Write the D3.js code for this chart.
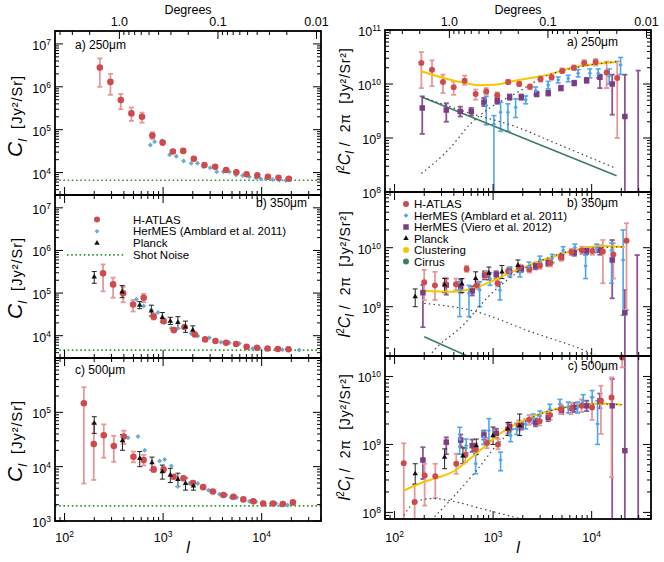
<!DOCTYPE html>
<html><head><meta charset="utf-8">
<script src="https://cdn.jsdelivr.net/npm/d3@7"></script>
<style>body{margin:0;background:#fff}svg{font-family:"Liberation Sans",Arial,sans-serif}</style>
</head><body><svg id="c" width="664" height="562"></svg>
<script>
// ---------------- DATA (l, value, errLow, errHigh) ----------------
// Left column: C_l [Jy^2/Sr]
const LA_hatlas=[[228,2.8e6,1.0e6,4.6e6],[292,1.3e6,6.5e5,2.0e6],[372,4.9e5,3.0e5,6.8e5],[477,2.4e5,1.6e5,3.3e5],[611,2.0e5,1.46e5,2.5e5],[778,7.3e4,6.1e4,8.7e4],[989,5.0e4,4.5e4,5.5e4],[1256,3.1e4,2.85e4,3.35e4],[1600,3.2e4,3.0e4,3.4e4],[2048,2.1e4,null,null],[2627,1.5e4,null,null],[3373,1.37e4,null,null],[4355,1.15e4,null,null],[5538,1.02e4,null,null],[7035,9.1e3,null,null],[9031,8.6e3,null,null],[11580,8.0e3,null,null],[14830,7.6e3,null,null],[18880,7.2e3,null,null]];
const LA_amblard=[[743,4.4e4],[820,5.2e4],[973,5.5e4],[1164,2.6e4],[1361,2.4e4],[1612,1.87e4],[1928,1.65e4],[2233,1.65e4],[2570,1.37e4],[3000,1.3e4],[3500,1.05e4],[4090,1.05e4],[4700,1.05e4],[5500,8.8e3],[6410,8.6e3],[7500,8.0e3],[8750,7.6e3],[9840,7.1e3],[11060,7.1e3],[12900,6.9e3],[15070,6.6e3],[17600,6.5e3]];
const LA_shot=6.6e3;
const LB_hatlas=[[246,2.9e5,1.1e5,4.7e5],[311,1.6e5,7.8e4,2.3e5],[393,9.9e4,6.1e4,1.4e5],[496,5.4e4,3.7e4,6.9e4],[635,7.8e4,6.1e4,9.6e4],[802,2.8e4,2.4e4,3.3e4],[1011,2.2e4,2.0e4,2.5e4],[1285,1.35e4,1.25e4,1.45e4],[1648,1.6e4,1.5e4,1.7e4],[2097,1.07e4,null,null],[2672,8.2e3,null,null],[3398,7.5e3,null,null],[4355,6.8e3,null,null],[5500,6.4e3,null,null],[7035,5.5e3,null,null],[8970,5.2e3,null,null],[11480,5.0e3,null,null],[14620,4.9e3,null,null],[18700,4.8e3,null,null]];
const LB_amblard=[[536,7.2e4],[635,5.0e4],[760,4.0e4],[887,3.5e4],[1036,2.05e4],[1211,1.5e4],[1413,1.5e4],[1928,1.13e4],[2250,9.8e3],[2950,9.0e3],[3870,7.0e3],[4700,6.8e3],[5940,6.6e3],[6930,5.5e3],[8100,5.0e3],[9460,5.0e3],[11060,4.8e3],[13950,4.9e3],[16250,4.7e3],[18900,4.7e3],[24000,4.6e3]];
const LB_planck=[[200,2.4e5,1.7e5,3.2e5],[384,1.07e5,7.8e4,1.5e5],[579,5.2e4,4.3e4,6.3e4],[760,3.8e4,2.9e4,5.2e4],[982,2.7e4,2.1e4,3.5e4],[1183,2.2e4,1.84e4,2.7e4],[1413,2.05e4,1.5e4,2.8e4],[1688,1.6e4,1.2e4,2.2e4],[2000,1.35e4,1.07e4,1.7e4]];
const LB_shot=4.6e3;
const LC_hatlas=[[157,1.47e5,4.9e3,2.9e5],[198,2.6e4,5.7e3,6.3e4],[250,3.8e4,1.46e4,6.0e4],[316,2.4e4,1.23e4,3.7e4],[399,3.6e4,2.6e4,4.6e4],[500,1.52e4,1.2e4,1.9e4],[635,1.32e4,1.05e4,1.65e4],[802,8.9e3,8.0e3,1.0e4],[1011,8.9e3,8.0e3,9.8e3],[1277,6.5e3,null,null],[1612,6.1e3,null,null],[2000,5.0e3,null,null],[2548,4.2e3,null,null],[3190,3.5e3,null,null],[4090,3.0e3,null,null],[5160,2.8e3,null,null],[6520,2.5e3,null,null],[8220,2.3e3,null,null],[10380,2.1e3,null,null],[13090,2.1e3,null,null],[16400,2.05e3,null,null],[20740,2.2e3,null,null]];
const LC_amblard=[[441,3.4e4],[556,3.6e4],[650,2.0e4],[789,9.3e3],[922,1.27e4],[1036,1.36e4],[1211,1.03e4],[1413,4.3e3],[1586,5.9e3],[1853,4.9e3],[2250,4.9e3],[2570,4.2e3],[2886,3.7e3],[3320,3.4e3],[3727,3.1e3],[4355,3.0e3],[4895,2.7e3],[5580,2.7e3],[6410,2.4e3],[7500,2.3e3],[8750,2.26e3],[10210,2.2e3],[12400,2.1e3],[13950,2.1e3],[15670,1.96e3],[18300,1.96e3]];
const LC_planck=[[200,6.3e4,4.1e4,8.3e4],[387,3.0e4,2.0e4,3.9e4],[579,1.42e4,1.0e4,1.9e4],[771,1.18e4,8.6e3,1.5e4],[982,8.1e3,5.9e3,1.07e4],[1183,7.0e3,5.1e3,9.3e3],[1413,5.8e3,4.3e3,7.6e3],[1688,4.9e3,3.7e3,6.2e3],[2032,4.4e3,3.7e3,5.4e3]];
const LC_shot=1.9e3;

// Right column: l^2 C_l / 2pi [Jy^2/Sr^2]
const RA_hatlas=[[187,2.45e10,8.4e9,3.9e10],[240,1.84e10,9.1e9,2.75e10],[310,1.09e10,6.8e9,1.49e10],[398,8.7e9,6.3e9,1.12e10],[514,1.15e10,9.7e9,1.43e10],[665,6.5e9,5.1e9,7.9e9],[852,7.3e9,6.4e9,8.4e9],[1101,6.2e9,5.5e9,7.0e9],[1423,1.09e10,1.0e10,1.2e10],[1840,1.0e10,9.2e9,1.1e10],[2364,8.9e9,8.0e9,9.8e9],[3035,1.24e10,1.1e10,1.4e10],[3924,1.33e10,1.2e10,1.45e10],[5024,1.74e10,1.6e10,1.95e10],[6605,2.0e10,1.8e10,2.2e10],[8400,2.45e10,2.2e10,2.75e10],[10970,2.55e10,2.2e10,2.9e10],[14190,1.63e10,8.4e9,2.6e10],[18170,1.29e10,1.0e9,2.63e10]];
const RA_amblard=[[852,4.0e9,1.76e9,5.9e9],[1019,1.8e9,1e6,2.6e9],[1191,3.0e9,1.33e9,4.6e9],[1413,3.0e9,1.33e9,4.3e9],[1693,3.7e9,2.4e9,5.3e9],[2140,5.1e9,4.3e9,6.0e9],[2700,7.5e9,6.4e9,8.8e9],[3623,9.6e9,8.2e9,1.12e10],[4578,1.19e10,1.05e10,1.35e10],[5780,1.27e10,1.1e10,1.45e10],[7300,1.58e10,1.35e10,1.85e10],[9590,1.58e10,1.3e10,1.9e10],[11650,1.58e10,1.3e10,1.9e10],[15060,1.41e10,1.0e10,1.9e10],[19650,2.25e10,1.5e10,3.1e10]];
const RA_viero=[[191,3.6e9,1.19e9,5.9e9],[335,3.3e9,2.0e9,4.4e9],[464,3.1e9,2.5e9,3.8e9],[600,3.1e9,2.6e9,3.6e9],[807,4.6e9,3.9e9,5.5e9],[1101,4.9e9,4.3e9,5.6e9],[1471,5.7e9,5.1e9,6.4e9],[1930,5.7e9,5.1e9,6.4e9],[2767,6.5e9,5.9e9,7.2e9],[3626,6.8e9,6.1e9,7.6e9],[4875,8.4e9,7.6e9,9.3e9],[6650,1.04e10,9.4e9,1.15e10],[8890,1.17e10,1.05e10,1.3e10],[12130,1.33e10,8.4e9,1.49e10],[16160,1.0e10,2.7e9,1.49e10],[21720,2.5e9,1e6,1.49e10],[29640,1e6,1e5,1.77e10]];
const RA_clust=[[187,1.72e10],[365,1.2e10],[514,1.04e10],[730,9.5e9],[1100,9.8e9],[1663,1.15e10],[2500,1.3e10],[3620,1.49e10],[6500,2.04e10],[10000,2.3e10],[17900,2.55e10]];
const RA_oneHalo=[[187,2.2e8],[365,6.5e8],[578,1.76e9],[922,3.6e9],[1718,6.8e9],[3105,1.29e10],[7900,2.1e10],[17900,2.6e10]];
const RA_twoHalo=[[192,5.7e9],[578,2.9e9],[1663,1.64e9],[4770,7.4e8],[17200,2.8e8]];
const RA_cirrus=[[192,5.7e9],[17900,2.0e8]];

const RB_hatlas=[[200,2.6e9,1.3e9,4.2e9],[257,2.3e9,1.3e9,3.9e9],[328,2.4e9,1.8e9,3.1e9],[420,2.4e9,1.9e9,3.0e9],[539,4.35e9,3.9e9,4.9e9],[681,2.3e9,2.0e9,2.7e9],[859,3.5e9,3.1e9,4.0e9],[1111,2.5e9,2.2e9,2.9e9],[1424,4.0e9,3.6e9,4.5e9],[1828,4.6e9,4.1e9,5.2e9],[2337,4.3e9,3.8e9,4.9e9],[2985,5.0e9,4.4e9,5.7e9],[3814,5.5e9,4.8e9,6.3e9],[4875,6.8e9,6.0e9,7.7e9],[6233,8.5e9,7.5e9,9.6e9],[7965,9.0e9,7.8e9,1.04e10],[10170,8.8e9,7.6e9,1.02e10],[13000,8.6e9,2.5e9,1.35e10],[16600,7.7e9,3.0e9,1.2e10],[22580,1.31e10,8.8e8,2.6e10]];
const RB_amblard=[[458,1.92e9,6.8e8,2.65e9],[569,1.69e9,6.8e8,2.3e9],[730,1.92e9,1.0e9,2.65e9],[929,3.0e9,2.3e9,3.8e9],[1173,1.9e9,1.3e9,2.6e9],[1482,3.9e9,3.2e9,4.7e9],[1872,3.8e9,3.2e9,4.5e9],[2308,4.8e9,4.0e9,5.7e9],[2985,6.2e9,5.3e9,7.2e9],[3980,6.6e9,5.6e9,7.7e9],[5145,9.1e9,8.0e9,1.04e10],[6760,1.01e10,8.8e9,1.15e10],[8680,4.9e9,3.0e9,7.5e9],[11220,9.8e9,8.3e9,1.15e10],[15920,9.1e9,2.5e9,1.2e10],[20870,6.2e9,7.2e8,2.0e10]];
const RB_viero=[[194,1.73e9,4.5e8,2.33e9],[335,2.33e9,1.6e9,3.0e9],[469,2.18e9,1.72e9,2.9e9],[614,1.85e9,1.55e9,2.2e9],[820,3.44e9,2.9e9,4.0e9],[1076,3.5e9,3.0e9,4.0e9],[1471,4.0e9,3.5e9,4.6e9],[1930,4.4e9,3.9e9,5.0e9],[2700,4.9e9,4.3e9,5.6e9],[3623,5.6e9,4.9e9,6.4e9],[4950,7.0e9,6.2e9,7.9e9],[6650,8.2e9,7.3e9,9.2e9],[8890,8.9e9,7.8e9,1.01e10],[12130,9.1e9,7.6e9,1.09e10],[16160,6.2e9,1.39e9,1.35e10],[21720,7.9e8,1e6,1.92e9],[29000,1e6,1e5,7.5e9]];
const RB_planck=[[162,1.48e9,1.0e9,2.0e9],[322,2.33e9,1.73e9,3.0e9],[483,2.43e9,1.75e9,3.0e9],[665,3.03e9,2.3e9,3.9e9],[907,3.7e9,2.85e9,4.7e9],[1230,3.9e9,3.0e9,5.0e9],[1787,5.0e9,3.9e9,6.2e9]];
const RB_clust=[[200,1.85e9],[394,1.8e9],[629,2.05e9],[1087,2.95e9],[1733,4.2e9],[2763,5.65e9],[5145,8.0e9],[8206,9.8e9],[13090,1.07e10],[21730,1.02e10]];
const RB_oneHalo=[[187,9e7],[228,1.48e8],[498,4.9e8],[929,1.58e9],[1733,3.7e9],[3490,6.6e9],[7600,9.4e9],[21730,1.04e10]];
const RB_twoHalo=[[200,1.14e9],[629,8.5e8],[2366,3.8e8],[10370,1.56e8],[21730,8e7]];
const RB_cirrus=[[200,3.1e8],[21730,9.2e6]];

const RC_hatlas=[[124,5.3e8,5e7,1.04e9],[160,1.42e8,5e7,2.6e8],[202,3.5e8,1.26e8,5.2e8],[259,3.4e8,1.63e8,5.2e8],[423,5.2e8,3.7e8,7.3e8],[523,7.0e8,5.5e8,8.8e8],[667,8.5e8,7.0e8,1.03e9],[866,1.05e9,8.8e8,1.25e9],[1120,1.0e9,8.5e8,1.2e9],[1413,1.7e9,1.45e9,2.0e9],[1815,1.9e9,1.6e9,2.25e9],[2320,2.3e9,1.95e9,2.7e9],[2960,2.2e9,1.9e9,2.6e9],[3785,2.7e9,2.3e9,3.2e9],[4840,3.3e9,2.8e9,3.9e9],[6180,3.4e9,2.8e9,4.1e9],[7900,3.7e9,3.0e9,4.6e9],[10090,3.5e9,2.3e9,5.0e9],[12420,4.4e9,1.43e9,7.3e9],[15920,4.9e9,3.3e8,9.7e9],[20400,1.9e10,1.36e10,3e10]];
const RC_amblard=[[458,1.2e9,7.2e8,1.79e9],[533,9.6e8,7.5e8,1.2e9],[665,5.2e8,3.7e8,7.3e8],[802,1.27e9,1.0e9,1.55e9],[907,1.6e9,1.14e9,2.4e9],[1191,5.9e8,4.1e8,7.7e8],[1506,1.35e9,1.1e9,1.65e9],[1733,1.7e9,1.4e9,2.05e9],[2140,2.0e9,1.7e9,2.35e9],[2553,2.4e9,2.05e9,2.8e9],[2985,2.65e9,2.25e9,3.1e9],[3770,3.3e9,2.8e9,3.9e9],[4765,3.9e9,3.3e9,4.6e9],[5780,3.5e9,2.9e9,4.2e9],[7200,3.5e9,2.9e9,4.2e9],[8206,4.4e9,3.6e9,5.4e9],[10120,4.9e9,3.9e9,6.2e9],[11480,2.0e9,1.0e9,4.4e9]];
const RC_viero=[[194,5.9e8,3.1e8,9.1e8],[335,1.08e9,7.2e8,1.27e9],[469,1.16e9,9.3e8,1.4e9],[614,9.6e8,7.8e8,1.18e9],[807,1.38e9,1.18e9,1.6e9],[1076,1.46e9,1.25e9,1.7e9],[1471,1.83e9,1.6e9,2.1e9],[1930,1.89e9,1.65e9,2.15e9],[2700,2.1e9,1.85e9,2.4e9],[3623,2.5e9,2.2e9,2.85e9],[4950,3.2e9,2.8e9,3.65e9],[6650,3.5e9,3.0e9,4.1e9],[8890,3.7e9,3.1e9,4.4e9],[12130,4.4e9,3.4e9,5.6e9],[16160,3.7e9,1e6,9.2e9],[21720,8.1e8,1e6,1e12],[29640,1e6,1e5,1e12]];
const RC_planck=[[162,3.7e8,2.6e8,5.2e8],[322,6.5e8,4.4e8,8.6e8],[494,6.8e8,5.2e8,8.9e8],[675,9.6e8,7.2e8,1.2e9],[998,1.35e9,1.0e9,1.8e9],[1413,1.69e9,1.35e9,2.1e9],[1860,1.89e9,1.35e9,2.8e9]];
const RC_clust=[[124,2.09e8],[194,2.78e8],[265,3.2e8],[407,4.1e8],[556,5.8e8],[730,8.1e8],[922,1.08e9],[1165,1.43e9],[1718,2.0e9],[2655,2.65e9],[4235,3.3e9],[6760,3.7e9],[11650,4.0e9],[20100,3.85e9]];
const RC_oneHalo=[[236,7.7e7],[392,1.67e8],[675,4.1e8],[1119,1.02e9],[1860,1.95e9],[2655,2.6e9],[4235,3.25e9],[6760,3.65e9],[11650,3.95e9],[20100,3.85e9]];
const RC_twoHalo=[[124,9e7],[166,1.45e8],[245,1.6e8],[362,1.49e8],[789,1.12e8],[2000,7.9e7]];

const degTicksMajor=[1.0,0.1,0.01];
const degTickLabels=["1.0","0.1","0.01"];
const degTicksMinor=[4,3,2,0.9,0.8,0.7,0.6,0.5,0.4,0.3,0.2,0.09,0.08,0.07,0.06,0.05,0.04,0.03,0.02];
const panelTags=["a) 250μm","b) 350μm","c) 500μm"];

// ---------------- COLOURS ----------------
const C_RED="#cf4a4d", C_REDERR="#e4999b", C_BLUEL="#6aadd0", C_BLUER="#4fa6ea", C_PURP="#7a3c84",
      C_YEL="#f7c600", C_CIR="#3f7d5c", C_SHOT="#2f9a2f";

// ---------------- LAYOUT ----------------
const svg=d3.select("#c");
const XDOM=[80,40000];
const LX=[55,321], RX=[385,651];
const P={
 La:{xr:LX,yr:[31,195],dom:[3000,2e7],ylab:[4,5,6,7],deg:true},
 Lb:{xr:LX,yr:[195,358],dom:[3000,2e7],ylab:[4,5,6,7]},
 Lc:{xr:LX,yr:[358,521],dom:[1000,1e6],ylab:[3,4,5],xlab:true},
 Ra:{xr:RX,yr:[30,192],dom:[1e8,1e11],ylab:[8,9,10,11],deg:true},
 Rb:{xr:RX,yr:[192,356],dom:[1.46e8,8.8e10],ylab:[9,10]},
 Rc:{xr:RX,yr:[356,519],dom:[8e7,2e10],ylab:[8,9,10],xlab:true}
};
const defs=svg.append("defs");
Object.entries(P).forEach(([k,p])=>{
  p.x=d3.scaleLog().domain(XDOM).range(p.xr);
  p.y=d3.scaleLog().domain(p.dom).range([p.yr[1],p.yr[0]]);
  defs.append("clipPath").attr("id","cl"+k).append("rect")
    .attr("x",p.xr[0]).attr("y",p.yr[0]).attr("width",p.xr[1]-p.xr[0]).attr("height",p.yr[1]-p.yr[0]);
  p.g=svg.append("g");
  p.cg=p.g.append("g").attr("clip-path","url(#cl"+k+")");
});

function logTicks(dom){const out=[];const lo=Math.floor(Math.log10(dom[0])),hi=Math.ceil(Math.log10(dom[1]));
  for(let e=lo;e<=hi;e++)for(let k=1;k<10;k++){const v=k*Math.pow(10,e);if(v>=dom[0]*0.999&&v<=dom[1]*1.001)out.push({v,major:k===1,e});}return out;}

function sup(sel,base,exp,fs){sel.append("tspan").text(base);sel.append("tspan").attr("dy",-5).attr("font-size",fs*0.68).text(exp);}

// axes
Object.entries(P).forEach(([k,p])=>{
  const g=svg.append("g").attr("stroke","#000").attr("stroke-width",1);
  const [x0,x1]=p.xr,[y0,y1]=p.yr;
  logTicks(XDOM).forEach(t=>{const xx=p.x(t.v),L=t.major?8:4;
    g.append("line").attr("x1",xx).attr("x2",xx).attr("y1",y1).attr("y2",y1-L);
    if(!p.deg) g.append("line").attr("x1",xx).attr("x2",xx).attr("y1",y0).attr("y2",y0+L);});
  logTicks(p.dom).forEach(t=>{const yy=p.y(t.v),L=t.major?8:4;
    g.append("line").attr("x1",x0).attr("x2",x0+L).attr("y1",yy).attr("y2",yy);
    g.append("line").attr("x1",x1).attr("x2",x1-L).attr("y1",yy).attr("y2",yy);});
  if(p.deg){
    degTicksMajor.forEach((d,i)=>{const xx=p.x(360/d);
      g.append("line").attr("x1",xx).attr("x2",xx).attr("y1",y0).attr("y2",y0+8);
      svg.append("text").attr("x",xx).attr("y",26).attr("text-anchor","middle").attr("font-size",12.5).text(degTickLabels[i]);});
    degTicksMinor.forEach(d=>{const xx=p.x(360/d);
      g.append("line").attr("x1",xx).attr("x2",xx).attr("y1",y0).attr("y2",y0+4);});
    svg.append("text").attr("x",(x0+x1)/2).attr("y",14).attr("text-anchor","middle").attr("font-size",12.5).text("Degrees");
  }
  p.ylab.forEach(e=>{const t=svg.append("text").attr("x",x0-4).attr("y",p.y(Math.pow(10,e))+6)
      .attr("text-anchor","end").attr("font-size",12.5);sup(t,"10",e,12.5);});
  if(p.xlab){[2,3,4].forEach(e=>{const t=svg.append("text").attr("x",p.x(Math.pow(10,e))).attr("y",542)
      .attr("text-anchor","middle").attr("font-size",12.5);sup(t,"10",e,12.5);});
    svg.append("text").attr("x",(x0+x1)/2).attr("y",553).attr("text-anchor","middle")
      .attr("font-size",16).attr("font-style","italic").text("l");}
  p.frame=[x0,y0,x1-x0,y1-y0];
});

// drawing helpers
function errbars(p,data,color,sw,cap){const g=p.cg.append("g").attr("stroke",color).attr("stroke-width",sw);
  data.forEach(d=>{if(d[2]==null)return;const xx=p.x(d[0]),ya=p.y(d[2]),yb=p.y(d[3]);
    g.append("line").attr("x1",xx).attr("x2",xx).attr("y1",ya).attr("y2",yb);
    [ya,yb].forEach(v=>g.append("line").attr("x1",xx-cap).attr("x2",xx+cap).attr("y1",v).attr("y2",v));});}
function marks(p,data,type,size,fill){
  p.g.append("g").selectAll("path").data(data.filter(d=>d[1]>=p.dom[0]&&d[1]<=p.dom[1]*1.1)).join("path")
   .attr("d",d3.symbol().type(type).size(size)).attr("fill",fill)
   .attr("transform",d=>`translate(${p.x(d[0])},${p.y(d[1])})`);}
function curve(p,pts,color,w,dash){const line=d3.line().x(d=>p.x(d[0])).y(d=>p.y(d[1])).curve(d3.curveMonotoneX);
  const path=p.cg.append("path").datum(pts).attr("d",line).attr("fill","none").attr("stroke",color).attr("stroke-width",w);
  if(dash)path.attr("stroke-dasharray",dash);}
function hline(p,v,color){p.cg.append("line").attr("x1",p.xr[0]).attr("x2",p.xr[1]).attr("y1",p.y(v)).attr("y2",p.y(v))
  .attr("stroke",color).attr("stroke-width",1.6).attr("stroke-dasharray","1.6,2.6");}

const DOT="1.5,3.2";
// Left panels
[[P.La,LA_hatlas,LA_amblard,null,LA_shot],[P.Lb,LB_hatlas,LB_amblard,LB_planck,LB_shot],[P.Lc,LC_hatlas,LC_amblard,LC_planck,LC_shot]]
.forEach(([p,h,a,pl,s])=>{
  hline(p,s,C_SHOT);
  marks(p,a,d3.symbolDiamond2,16,C_BLUEL);
  errbars(p,h,C_REDERR,1.8,2.5);
  marks(p,h,d3.symbolCircle,34,C_RED);
  if(pl){errbars(p,pl,"#222",1,2.5);marks(p,pl,d3.symbolTriangle,13,"#111");}
});
// Right panels
[[P.Ra,RA_hatlas,RA_amblard,RA_viero,null,RA_clust,RA_oneHalo,RA_twoHalo,RA_cirrus],
 [P.Rb,RB_hatlas,RB_amblard,RB_viero,RB_planck,RB_clust,RB_oneHalo,RB_twoHalo,RB_cirrus],
 [P.Rc,RC_hatlas,RC_amblard,RC_viero,RC_planck,RC_clust,RC_oneHalo,RC_twoHalo,null]]
.forEach(([p,h,a,v,pl,cl,o1,o2,ci])=>{
  errbars(p,v,"#8d5693",1.8,2.5);
  errbars(p,h,C_REDERR,1.8,2.5);
  errbars(p,a,C_BLUER,1.6,2.5);
  if(pl)errbars(p,pl,"#222",1,2.5);
  marks(p,v,d3.symbolSquare,30,C_PURP);
  marks(p,h,d3.symbolCircle,28,C_RED);
  marks(p,a,d3.symbolDiamond2,12,C_BLUER);
  if(pl)marks(p,pl,d3.symbolTriangle,13,"#111");
  if(ci)curve(p,ci,C_CIR,1.6);
  curve(p,cl,C_YEL,2);
  curve(p,o1,"#444",1.2,DOT);
  curve(p,o2,"#444",1.2,DOT);
});

// frames
Object.values(P).forEach(p=>svg.append("rect").attr("x",p.frame[0]).attr("y",p.frame[1]).attr("width",p.frame[2])
  .attr("height",p.frame[3]).attr("fill","none").attr("stroke","#000").attr("stroke-width",1.8));

// panel tags
[[P.La,75,49,"start",0],[P.Lb,307,207,"end",1],[P.Lc,75,374,"start",2],[P.Ra,618,46,"end",0],[P.Rb,618,207,"end",1],[P.Rc,618,370,"end",2]]
.forEach(([p,x,y,a,i])=>svg.append("text").attr("x",x).attr("y",y).attr("text-anchor",a).attr("font-size",12).text(panelTags[i]));

// y titles
function ytitleL(cy){const t=svg.append("text").attr("transform",`translate(22,${cy}) rotate(-90)`).attr("text-anchor","middle");
  t.append("tspan").attr("font-size",21).attr("font-style","italic").text("C");
  t.append("tspan").attr("font-size",13).attr("font-style","italic").attr("dy",5).text("l");
  t.append("tspan").attr("font-size",14.5).attr("letter-spacing",1).attr("dy",-5).text("\u00a0\u00a0[Jy²/Sr]");}
function ytitleR(cy){const t=svg.append("text").attr("transform",`translate(350,${cy}) rotate(-90)`).attr("text-anchor","middle");
  t.append("tspan").attr("font-size",16).attr("font-style","italic").text("l");
  t.append("tspan").attr("font-size",10).attr("dy",-6).text("2");
  t.append("tspan").attr("font-size",16).attr("font-style","italic").attr("dy",6).text("C");
  t.append("tspan").attr("font-size",12).attr("font-style","italic").attr("dy",4).text("l");
  t.append("tspan").attr("font-size",14).attr("letter-spacing",0.8).attr("dy",-4).text("\u00a0/\u00a0\u00a02π\u00a0\u00a0[Jy²/Sr²]");}
ytitleL(116);ytitleL(278);ytitleL(441);
ytitleR(111);ytitleR(274);ytitleR(437);

// legends
const legL=[["H-ATLAS","c"],["HerMES (Amblard et al. 2011)","d"],["Planck","t"],["Shot Noise","s"]];
legL.forEach((it,i)=>{const y=219.5+i*11.8;
  if(it[1]==="c")svg.append("circle").attr("cx",97).attr("cy",y).attr("r",3).attr("fill",C_RED);
  if(it[1]==="d")svg.append("path").attr("d",d3.symbol().type(d3.symbolDiamond2).size(14)).attr("transform",`translate(97,${y})`).attr("fill",C_BLUEL);
  if(it[1]==="t")svg.append("path").attr("d",d3.symbol().type(d3.symbolTriangle).size(13)).attr("transform",`translate(97,${y})`).attr("fill","#111");
  if(it[1]==="s")svg.append("line").attr("x1",67).attr("x2",124).attr("y1",y).attr("y2",y).attr("stroke",C_SHOT).attr("stroke-width",1.6).attr("stroke-dasharray","1.6,2.6");
  svg.append("text").attr("x",133).attr("y",y+4).attr("font-size",11.5).text(it[0]);});
const legR=[["H-ATLAS",C_RED,"c"],["HerMES (Amblard et al. 2011)",C_BLUER,"d"],["HerMES (Viero et al. 2012)",C_PURP,"q"],["Planck","#111","t"],["Clustering",C_YEL,"c"],["Cirrus",C_CIR,"c"]];
legR.forEach((it,i)=>{const y=204+i*11.5;const ty={c:d3.symbolCircle,d:d3.symbolDiamond2,q:d3.symbolSquare,t:d3.symbolTriangle}[it[2]];
  const sz={c:28,d:14,q:30,t:13}[it[2]];
  svg.append("path").attr("d",d3.symbol().type(ty).size(sz)).attr("transform",`translate(406,${y})`).attr("fill",it[1]);
  svg.append("text").attr("x",414).attr("y",y+4).attr("font-size",11.5).text(it[0]);});
</script></body></html>
